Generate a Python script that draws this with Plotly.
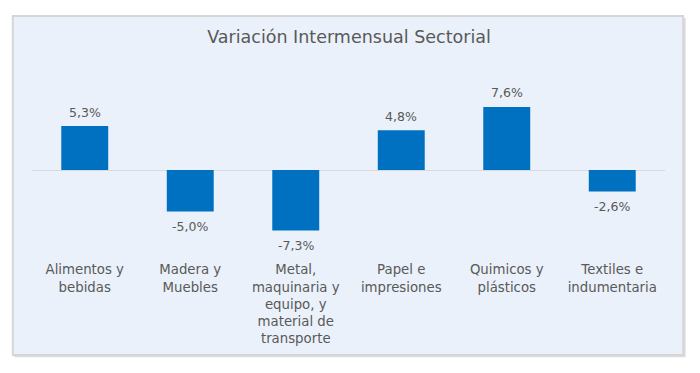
import plotly.graph_objects as go

categories = [
    "Alimentos y<br>bebidas",
    "Madera y<br>Muebles",
    "Metal,<br>maquinaria y<br>equipo, y<br>material de<br>transporte",
    "Papel e<br>impresiones",
    "Quimicos y<br>plásticos",
    "Textiles e<br>indumentaria",
]
values = [5.3, -5.0, -7.3, 4.8, 7.6, -2.6]
title_text = "Variación Intermensual Sectorial"

# the page body has an 8px margin; work in page pixels and shift
OFF = 8
W, H = 700 - OFF, 373 - OFF
L, R = 31.7 - OFF, 665.3 - OFF
T, B = 86.5 - OFF, 253.5 - OFF
pw, ph = R - L, B - T

FONT = "DejaVu Sans"
GREY = "#595959"


def px(x):
    return (x - OFF - L) / pw


def py(y):
    return (B - (y - OFF)) / ph


fig = go.Figure()
fig.add_trace(go.Bar(
    x=categories,
    y=values,
    marker=dict(color="#0070C0", line=dict(width=0)),
    width=0.445,
    hoverinfo="skip",
))

annotations = [
    dict(
        x=c, y=v, xref="x", yref="y",
        text=f"{v:.1f}%".replace(".", ","),
        showarrow=False,
        yanchor="middle",
        yshift=14 if v >= 0 else -14.5,
        font=dict(family=FONT, size=12.5, color=GREY),
    )
    for c, v in zip(categories, values)
]

fig.update_layout(
    width=W, height=H,
    margin=dict(l=L, r=W - R, t=T, b=H - B, autoexpand=False),
    paper_bgcolor="white",
    plot_bgcolor="rgba(0,0,0,0)",
    showlegend=False,
    font=dict(family=FONT, size=13, color=GREY),
    title=dict(
        text=title_text,
        x=px(349), xref="paper", xanchor="center",
        y=1 - (37 - OFF) / H, yanchor="middle", yref="container",
        font=dict(family=FONT, size=17.5, color=GREY),
    ),
    xaxis=dict(
        showgrid=False, showline=False, ticks="",
        tickfont=dict(family=FONT, size=13.3, color=GREY),
        ticklabelstandoff=7,
    ),
    yaxis=dict(
        range=[-10, 10], showgrid=False, showticklabels=False,
        zeroline=True, zerolinecolor="#D9D9D9", zerolinewidth=1,
        showline=False, ticks="",
    ),
    annotations=annotations,
    shapes=[
        dict(
            type="rect", xref="paper", yref="paper", layer="below",
            x0=px(14), x1=px(686), y0=py(17), y1=py(358.5),
            fillcolor="#DCDCDC", line=dict(width=0),
        ),
        dict(
            type="rect", xref="paper", yref="paper", layer="below",
            x0=px(12.5), x1=px(683.5), y0=py(15), y1=py(356),
            fillcolor="#EAF1FA", line=dict(color="#D6D6D6", width=2),
        ),
    ],
)

fig.write_html("out.html")
